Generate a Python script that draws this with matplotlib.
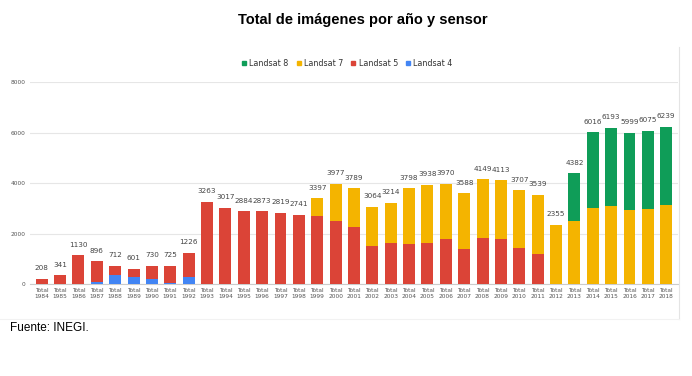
import matplotlib
matplotlib.use("Agg")
import matplotlib.pyplot as plt
import numpy as np
from matplotlib.lines import Line2D
from matplotlib.patches import Patch

years = list(range(1984, 2019))
tick_labels = [f"Total\n{y}" for y in years]
totals = [208, 341, 1130, 896, 712, 601, 730, 725, 1226, 3263, 3017, 2884, 2873,
          2819, 2741, 3397, 3977, 3789, 3064, 3214, 3798, 3938, 3970, 3588, 4149,
          4113, 3707, 3539, 2355, 4382, 6016, 6193, 5999, 6075, 6239]
landsat4 = [0, 0, 0, 60, 370, 260, 180, 50, 290] + [0] * 26
landsat7 = [0] * 15 + [690, 1480, 1520, 1570, 1600, 2210, 2300, 2190, 2190, 2330,
                       2320, 2270, 2340, 2355, 2495, 3023, 3076, 2931, 2970, 3129]
landsat8 = [0] * 29 + [1887, 2993, 3117, 3068, 3105, 3110]
landsat5 = [t - a - b - c for t, a, b, c in zip(totals, landsat4, landsat7, landsat8)]

c8, c7, c5, c4 = "#0F9D58", "#F4B400", "#DB4437", "#4285F4"

fig = plt.figure(figsize=(6.92, 3.76), dpi=100)
ax = fig.add_axes([0.043, 0.2447, 0.937, 0.537])
x = np.arange(len(years))
w = 0.65
b4 = np.array(landsat4)
b5 = b4 + np.array(landsat5)
b7 = b5 + np.array(landsat7)
ax.bar(x, landsat4, w, color=c4, zorder=3)
ax.bar(x, landsat5, w, bottom=b4, color=c5, zorder=3)
ax.bar(x, landsat7, w, bottom=b5, color=c7, zorder=3)
ax.bar(x, landsat8, w, bottom=b7, color=c8, zorder=3)

for xi, t in zip(x, totals):
    ax.text(xi, t + 300, str(t), ha="center", va="bottom", fontsize=5.2, color="#444444")

ax.set_xlim(-0.65, len(years) - 0.35)
ax.set_ylim(0, 8000)
ax.set_yticks([0, 2000, 4000, 6000, 8000])
ax.set_yticklabels(["0", "2000", "4000", "6000", "8000"], fontsize=4.2, color="#555555")
ax.set_xticks(x)
ax.set_xticklabels(tick_labels, fontsize=4.2, color="#555555", linespacing=1.3)
ax.tick_params(length=0, pad=3)
ax.grid(axis="y", color="#e6e6e6", linewidth=0.8, zorder=0)
for s in ["top", "right", "left"]:
    ax.spines[s].set_visible(False)
ax.spines["bottom"].set_color("#cccccc")
ax.spines["bottom"].set_linewidth(0.8)

fig.text(0.525, 0.947, "Total de imágenes por año y sensor", ha="center", va="center",
         fontsize=10.5, fontweight="bold", family="Liberation Sans")

handles = [Patch(color=c8, label="Landsat 8"), Patch(color=c7, label="Landsat 7"),
           Patch(color=c5, label="Landsat 5"), Patch(color=c4, label="Landsat 4")]
fig.legend(handles=handles, loc="center", bbox_to_anchor=(0.502, 0.832), ncol=4,
           frameon=False, fontsize=5.8, handlelength=0.5, handleheight=0.5,
           handletextpad=0.4, columnspacing=1.0, labelcolor="#333333")

fig.add_artist(Line2D([679 / 692, 679 / 692], [1 - 47 / 376, 1 - 319 / 376],
                      transform=fig.transFigure, color="#e4e4e4", linewidth=0.8))
fig.add_artist(Line2D([0.0, 679 / 692], [1 - 319 / 376, 1 - 319 / 376],
                      transform=fig.transFigure, color="#f2f2f2", linewidth=0.8))

fig.text(10 / 692, 1 - 328 / 376, "Fuente: INEGI.", ha="left", va="center",
         fontsize=8.5, family="Liberation Sans")

fig.savefig("out.png", dpi=100)
